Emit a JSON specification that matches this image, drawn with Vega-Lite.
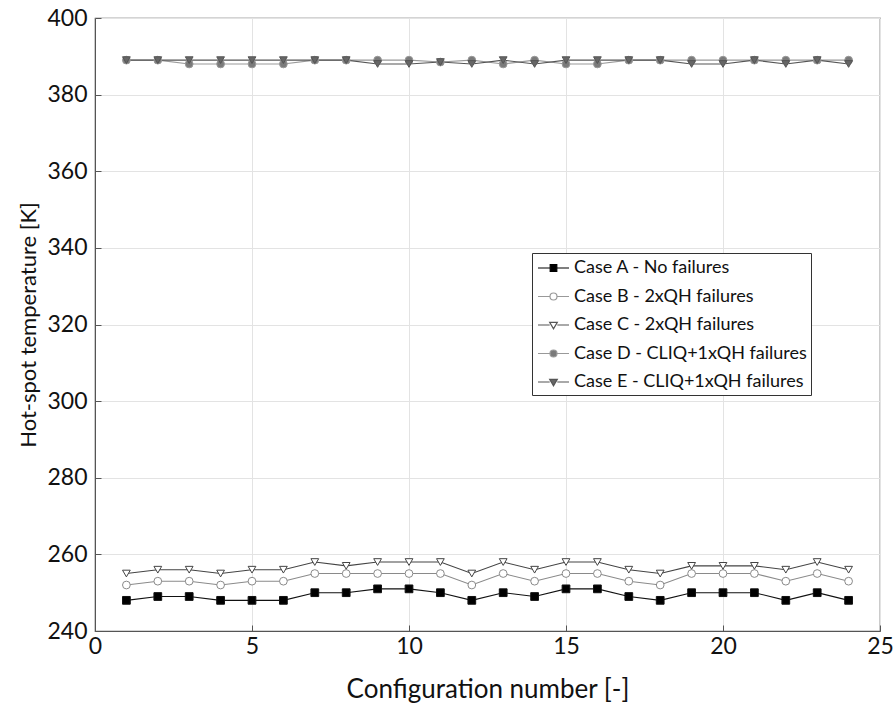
{
  "$schema": "https://vega.github.io/schema/vega-lite/v6.json",
  "width": 785,
  "height": 613,
  "autosize": "none",
  "padding": {"left": 95, "top": 18, "right": 16, "bottom": 86},
  "background": "white",
  "config": {
    "font": "Lato",
    "view": {"stroke": "#555", "strokeWidth": 1.2},
    "axis": {
      "gridColor": "#e3e3e3",
      "domainColor": "#555",
      "tickColor": "#555",
      "labelColor": "#111",
      "titleColor": "#111",
      "labelFont": "Lato",
      "titleFont": "Lato",
      "titleFontWeight": "normal"
    }
  },
  "data": {
    "values": [
      {"x":1,"case":"Case A - No failures","T":248},
      {"x":2,"case":"Case A - No failures","T":249},
      {"x":3,"case":"Case A - No failures","T":249},
      {"x":4,"case":"Case A - No failures","T":248},
      {"x":5,"case":"Case A - No failures","T":248},
      {"x":6,"case":"Case A - No failures","T":248},
      {"x":7,"case":"Case A - No failures","T":250},
      {"x":8,"case":"Case A - No failures","T":250},
      {"x":9,"case":"Case A - No failures","T":251},
      {"x":10,"case":"Case A - No failures","T":251},
      {"x":11,"case":"Case A - No failures","T":250},
      {"x":12,"case":"Case A - No failures","T":248},
      {"x":13,"case":"Case A - No failures","T":250},
      {"x":14,"case":"Case A - No failures","T":249},
      {"x":15,"case":"Case A - No failures","T":251},
      {"x":16,"case":"Case A - No failures","T":251},
      {"x":17,"case":"Case A - No failures","T":249},
      {"x":18,"case":"Case A - No failures","T":248},
      {"x":19,"case":"Case A - No failures","T":250},
      {"x":20,"case":"Case A - No failures","T":250},
      {"x":21,"case":"Case A - No failures","T":250},
      {"x":22,"case":"Case A - No failures","T":248},
      {"x":23,"case":"Case A - No failures","T":250},
      {"x":24,"case":"Case A - No failures","T":248},
      {"x":1,"case":"Case B - 2xQH failures","T":252},
      {"x":2,"case":"Case B - 2xQH failures","T":253},
      {"x":3,"case":"Case B - 2xQH failures","T":253},
      {"x":4,"case":"Case B - 2xQH failures","T":252},
      {"x":5,"case":"Case B - 2xQH failures","T":253},
      {"x":6,"case":"Case B - 2xQH failures","T":253},
      {"x":7,"case":"Case B - 2xQH failures","T":255},
      {"x":8,"case":"Case B - 2xQH failures","T":255},
      {"x":9,"case":"Case B - 2xQH failures","T":255},
      {"x":10,"case":"Case B - 2xQH failures","T":255},
      {"x":11,"case":"Case B - 2xQH failures","T":255},
      {"x":12,"case":"Case B - 2xQH failures","T":252},
      {"x":13,"case":"Case B - 2xQH failures","T":255},
      {"x":14,"case":"Case B - 2xQH failures","T":253},
      {"x":15,"case":"Case B - 2xQH failures","T":255},
      {"x":16,"case":"Case B - 2xQH failures","T":255},
      {"x":17,"case":"Case B - 2xQH failures","T":253},
      {"x":18,"case":"Case B - 2xQH failures","T":252},
      {"x":19,"case":"Case B - 2xQH failures","T":255},
      {"x":20,"case":"Case B - 2xQH failures","T":255},
      {"x":21,"case":"Case B - 2xQH failures","T":255},
      {"x":22,"case":"Case B - 2xQH failures","T":253},
      {"x":23,"case":"Case B - 2xQH failures","T":255},
      {"x":24,"case":"Case B - 2xQH failures","T":253},
      {"x":1,"case":"Case C - 2xQH failures","T":255},
      {"x":2,"case":"Case C - 2xQH failures","T":256},
      {"x":3,"case":"Case C - 2xQH failures","T":256},
      {"x":4,"case":"Case C - 2xQH failures","T":255},
      {"x":5,"case":"Case C - 2xQH failures","T":256},
      {"x":6,"case":"Case C - 2xQH failures","T":256},
      {"x":7,"case":"Case C - 2xQH failures","T":258},
      {"x":8,"case":"Case C - 2xQH failures","T":257},
      {"x":9,"case":"Case C - 2xQH failures","T":258},
      {"x":10,"case":"Case C - 2xQH failures","T":258},
      {"x":11,"case":"Case C - 2xQH failures","T":258},
      {"x":12,"case":"Case C - 2xQH failures","T":255},
      {"x":13,"case":"Case C - 2xQH failures","T":258},
      {"x":14,"case":"Case C - 2xQH failures","T":256},
      {"x":15,"case":"Case C - 2xQH failures","T":258},
      {"x":16,"case":"Case C - 2xQH failures","T":258},
      {"x":17,"case":"Case C - 2xQH failures","T":256},
      {"x":18,"case":"Case C - 2xQH failures","T":255},
      {"x":19,"case":"Case C - 2xQH failures","T":257},
      {"x":20,"case":"Case C - 2xQH failures","T":257},
      {"x":21,"case":"Case C - 2xQH failures","T":257},
      {"x":22,"case":"Case C - 2xQH failures","T":256},
      {"x":23,"case":"Case C - 2xQH failures","T":258},
      {"x":24,"case":"Case C - 2xQH failures","T":256},
      {"x":1,"case":"Case D - CLIQ+1xQH failures","T":389},
      {"x":2,"case":"Case D - CLIQ+1xQH failures","T":389},
      {"x":3,"case":"Case D - CLIQ+1xQH failures","T":388},
      {"x":4,"case":"Case D - CLIQ+1xQH failures","T":388},
      {"x":5,"case":"Case D - CLIQ+1xQH failures","T":388},
      {"x":6,"case":"Case D - CLIQ+1xQH failures","T":388},
      {"x":7,"case":"Case D - CLIQ+1xQH failures","T":389},
      {"x":8,"case":"Case D - CLIQ+1xQH failures","T":389},
      {"x":9,"case":"Case D - CLIQ+1xQH failures","T":389},
      {"x":10,"case":"Case D - CLIQ+1xQH failures","T":389},
      {"x":11,"case":"Case D - CLIQ+1xQH failures","T":388.5},
      {"x":12,"case":"Case D - CLIQ+1xQH failures","T":389},
      {"x":13,"case":"Case D - CLIQ+1xQH failures","T":388},
      {"x":14,"case":"Case D - CLIQ+1xQH failures","T":389},
      {"x":15,"case":"Case D - CLIQ+1xQH failures","T":388},
      {"x":16,"case":"Case D - CLIQ+1xQH failures","T":388},
      {"x":17,"case":"Case D - CLIQ+1xQH failures","T":389},
      {"x":18,"case":"Case D - CLIQ+1xQH failures","T":389},
      {"x":19,"case":"Case D - CLIQ+1xQH failures","T":389},
      {"x":20,"case":"Case D - CLIQ+1xQH failures","T":389},
      {"x":21,"case":"Case D - CLIQ+1xQH failures","T":389},
      {"x":22,"case":"Case D - CLIQ+1xQH failures","T":389},
      {"x":23,"case":"Case D - CLIQ+1xQH failures","T":389},
      {"x":24,"case":"Case D - CLIQ+1xQH failures","T":389},
      {"x":1,"case":"Case E - CLIQ+1xQH failures","T":389},
      {"x":2,"case":"Case E - CLIQ+1xQH failures","T":389},
      {"x":3,"case":"Case E - CLIQ+1xQH failures","T":389},
      {"x":4,"case":"Case E - CLIQ+1xQH failures","T":389},
      {"x":5,"case":"Case E - CLIQ+1xQH failures","T":389},
      {"x":6,"case":"Case E - CLIQ+1xQH failures","T":389},
      {"x":7,"case":"Case E - CLIQ+1xQH failures","T":389},
      {"x":8,"case":"Case E - CLIQ+1xQH failures","T":389},
      {"x":9,"case":"Case E - CLIQ+1xQH failures","T":388},
      {"x":10,"case":"Case E - CLIQ+1xQH failures","T":388},
      {"x":11,"case":"Case E - CLIQ+1xQH failures","T":388.5},
      {"x":12,"case":"Case E - CLIQ+1xQH failures","T":388},
      {"x":13,"case":"Case E - CLIQ+1xQH failures","T":389},
      {"x":14,"case":"Case E - CLIQ+1xQH failures","T":388},
      {"x":15,"case":"Case E - CLIQ+1xQH failures","T":389},
      {"x":16,"case":"Case E - CLIQ+1xQH failures","T":389},
      {"x":17,"case":"Case E - CLIQ+1xQH failures","T":389},
      {"x":18,"case":"Case E - CLIQ+1xQH failures","T":389},
      {"x":19,"case":"Case E - CLIQ+1xQH failures","T":388},
      {"x":20,"case":"Case E - CLIQ+1xQH failures","T":388},
      {"x":21,"case":"Case E - CLIQ+1xQH failures","T":389},
      {"x":22,"case":"Case E - CLIQ+1xQH failures","T":388},
      {"x":23,"case":"Case E - CLIQ+1xQH failures","T":389},
      {"x":24,"case":"Case E - CLIQ+1xQH failures","T":388}
    ]
  },
  "encoding": {
    "x": {
      "field": "x", "type": "quantitative",
      "scale": {"domain": [0, 25], "nice": false},
      "axis": {"title": "Configuration number [-]", "values": [0, 5, 10, 15, 20, 25],
               "labelFontSize": 23, "titleFontSize": 26, "tickSize": -6, "labelPadding": 10,
               "titlePadding": 18, "labelFlush": false}
    },
    "y": {
      "field": "T", "type": "quantitative",
      "scale": {"domain": [240, 400], "nice": false, "zero": false},
      "axis": {"title": "Hot-spot temperature [K]", "values": [240, 260, 280, 300, 320, 340, 360, 380, 400],
               "labelFontSize": 23, "titleFontSize": 22, "tickSize": -6, "labelPadding": 14,
               "titlePadding": 6, "labelFlush": false}
    }
  },
  "resolve": {"scale": {"shape": "independent"}},
  "layer": [
    {
      "mark": {"type": "line", "strokeWidth": 1.1},
      "encoding": {
        "detail": {"field": "case"},
        "stroke": {
          "field": "case", "type": "nominal",
          "scale": {"range": ["#111111", "#8a8a8a", "#444444", "#999999", "#555555"]},
          "legend": null
        }
      }
    },
    {
      "mark": {"type": "point", "filled": false, "strokeWidth": 1, "opacity": 1, "size": 60},
      "encoding": {
        "shape": {
          "field": "case", "type": "nominal",
          "scale": {"range": ["square", "circle", "triangle-down", "circle", "triangle-down"]},
          "legend": null
        },
        "fill": {
          "field": "case", "type": "nominal",
          "scale": {"range": ["#000000", "#ffffff", "#ffffff", "#7a7a7a", "#666666"]},
          "legend": null
        },
        "stroke": {
          "field": "case", "type": "nominal",
          "scale": {"range": ["#111111", "#8a8a8a", "#444444", "#999999", "#555555"]},
          "legend": null
        }
      }
    },
    {
      "transform": [{"filter": "datum.x > 1000"}],
      "mark": {"type": "point", "filled": true, "opacity": 1, "strokeWidth": 1.2},
      "encoding": {
        "shape": {
          "field": "case", "type": "nominal", "title": null,
          "scale": {
            "domain": ["Case A - No failures", "Case B - 2xQH failures", "Case C - 2xQH failures", "Case D - CLIQ+1xQH failures", "Case E - CLIQ+1xQH failures"],
            "range": [
              "M-0.9,0H0.32M0.98,0H2.2M0.32,-0.33H0.98V0.33H0.32Z",
              "M-0.9,0H0.3M1.0,0H2.2M1.0,0A0.35,0.35 0 1,1 0.3,0A0.35,0.35 0 1,1 1.0,0Z",
              "M-0.9,0H0.27M1.03,0H2.2M0.27,-0.26H1.03L0.65,0.38Z",
              "M-0.9,0H0.3M1.0,0H2.2M1.0,0A0.35,0.35 0 1,1 0.3,0A0.35,0.35 0 1,1 1.0,0Z",
              "M-0.9,0H0.27M1.03,0H2.2M0.27,-0.26H1.03L0.65,0.38Z"
            ]
          },
          "legend": {
            "orient": "none", "legendX": 437, "legendY": 235,
            "title": null,
            "fillColor": "white", "strokeColor": "#333", "padding": 4,
            "labelFontSize": 18, "labelFont": "Lato", "labelColor": "#111",
            "symbolSize": 400, "labelOffset": 16, "rowPadding": 8.5,
            "labelLimit": 400,
            "encoding": {
              "symbols": {
                "fill": {"value": {"expr": "datum.label === 'Case A - No failures' ? '#000000' : datum.label === 'Case D - CLIQ+1xQH failures' ? '#7a7a7a' : datum.label === 'Case E - CLIQ+1xQH failures' ? '#666666' : '#ffffff'"}},
                "stroke": {"value": {"expr": "datum.label === 'Case A - No failures' ? '#000000' : datum.label === 'Case B - 2xQH failures' ? '#999999' : datum.label === 'Case C - 2xQH failures' ? '#555555' : datum.label === 'Case D - CLIQ+1xQH failures' ? '#999999' : '#555555'"}},
                "strokeWidth": {"value": 1.2},
                "opacity": {"value": 1}
              }
            }
          }
        }
      }
    }
  ]
}
